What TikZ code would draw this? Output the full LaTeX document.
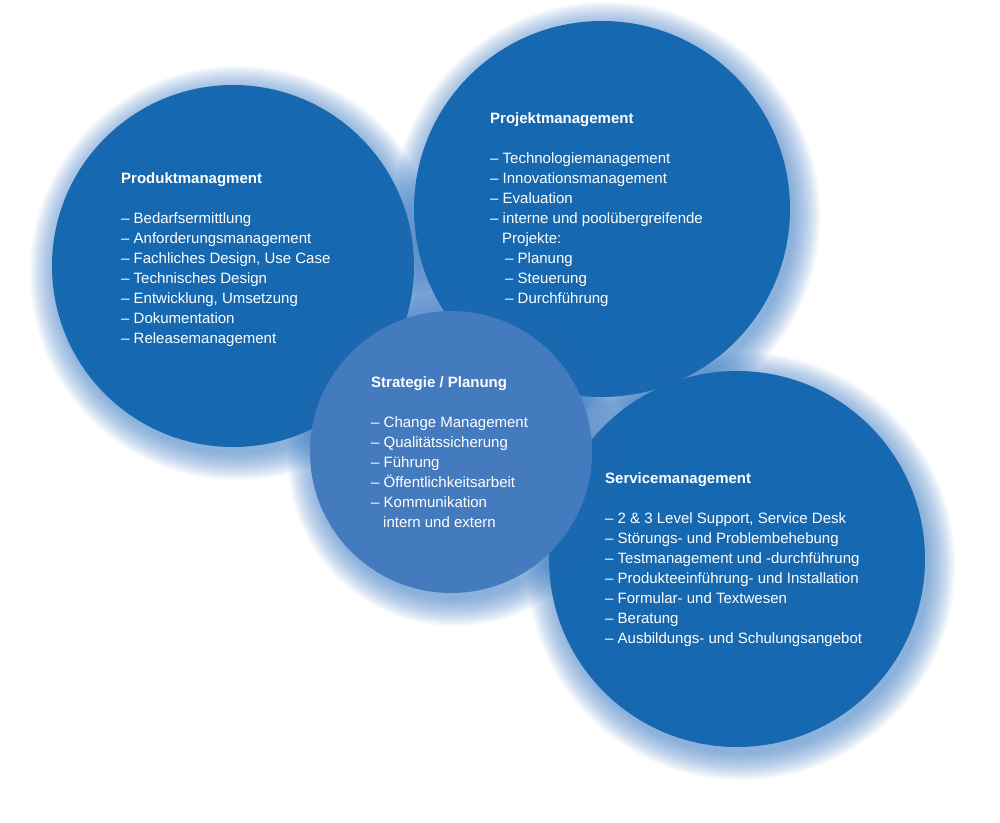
\documentclass[tikz,border=0pt]{standalone}
\usepackage{fontspec}
\setmainfont{Liberation Sans}
\definecolor{dblue}{RGB}{22,104,176}
\definecolor{lblue}{RGB}{68,123,191}
\definecolor{gblue}{RGB}{45,115,195}
\newcommand{\circtext}[2]{{\fontsize{15}{20}\selectfont\begin{tabular}[t]{@{}l@{}}\textbf{#1}\\[0pt] \\ #2\end{tabular}}}
\tikzset{
  bubble/.style={circle, inner sep=0pt, minimum size=#1},
  txt/.style={anchor=base west, inner sep=0pt, text=white, font=\fontsize{15}{20}\selectfont}
}
\newcommand{\glow}[3]{%
  \foreach \k in {1,...,14} {\fill[gblue, fill opacity=0.05] ({#1+4},{#2+7}) circle ({#3+28-2*\k});}%
}
\begin{document}
\begin{tikzpicture}[x=1pt,y=-1pt]
\useasboundingbox (0,0) rectangle (1000,822);
\fill[white] (0,0) rectangle (1000,822);
% Produktmanagment
\glow{233}{266}{181}
\node[bubble=362pt, fill=dblue] (prod) at (233,266) {};
% Projektmanagement
\glow{602}{209}{188}
\node[bubble=376pt, fill=dblue] (proj) at (602,209) {};
% Servicemanagement
\glow{737}{559}{188}
\node[bubble=376pt, fill=dblue] (serv) at (737,559) {};
% Strategie
\glow{451}{452}{141}
\node[bubble=282pt, fill=lblue] (strat) at (451,452) {};

\node[txt] (tprod) at (121,183) {\circtext{Produktmanagment}{%
– Bedarfsermittlung\\
– Anforderungsmanagement\\
– Fachliches Design, Use Case\\
– Technisches Design\\
– Entwicklung, Umsetzung\\
– Dokumentation\\
– Releasemanagement}};

\node[txt] (tproj) at (490,123) {\circtext{Projektmanagement}{%
– Technologiemanagement\\
– Innovationsmanagement\\
– Evaluation\\
– interne und poolübergreifende\\
\hspace*{0.8em}Projekte:\\
\hspace*{1em}– Planung\\
\hspace*{1em}– Steuerung\\
\hspace*{1em}– Durchführung}};

\node[txt] (tstrat) at (371,387) {\circtext{Strategie / Planung}{%
– Change Management\\
– Qualitätssicherung\\
– Führung\\
– Öffentlichkeitsarbeit\\
– Kommunikation\\
\hspace*{0.8em}intern und extern}};

\node[txt] (tserv) at (605,483) {\circtext{Servicemanagement}{%
– 2 \& 3 Level Support, Service Desk\\
– Störungs- und Problembehebung\\
– Testmanagement und -durchführung\\
– Produkteeinführung- und Installation\\
– Formular- und Textwesen\\
– Beratung\\
– Ausbildungs- und Schulungsangebot}};
\end{tikzpicture}
\end{document}
